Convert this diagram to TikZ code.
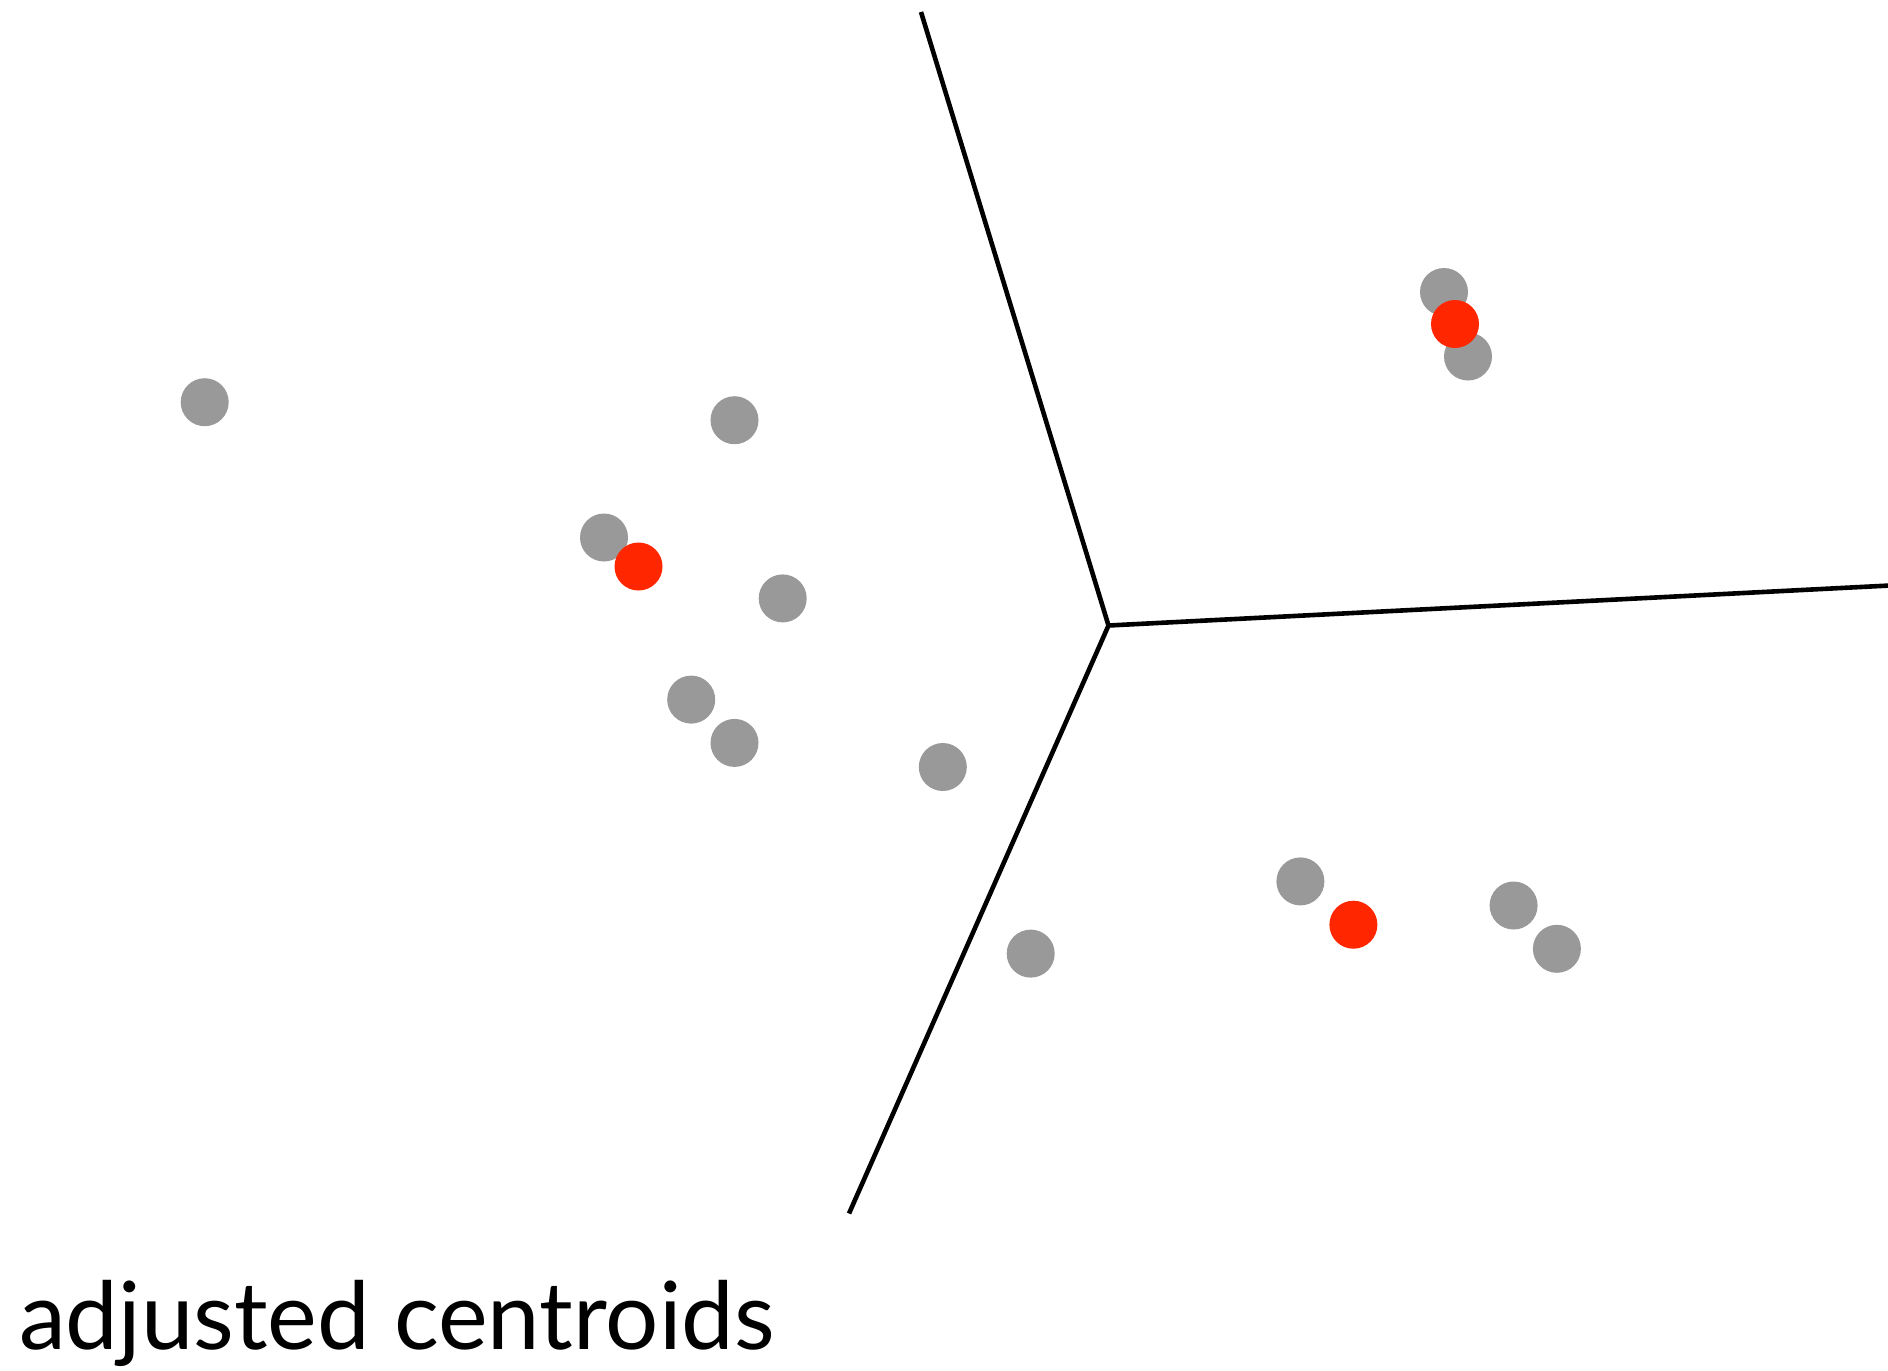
\documentclass[tikz,border=0pt]{standalone}
\usepackage{fontspec}
\setmainfont{Lato}
\definecolor{ptgray}{HTML}{999999}
\definecolor{ptred}{HTML}{FF2600}
\begin{document}
\begin{tikzpicture}[x=1pt,y=-1pt,
  pt/.style={circle,inner sep=0pt,minimum size=48pt,fill=ptgray},
  cen/.style={circle,inner sep=0pt,minimum size=48pt,fill=ptred},
  edge/.style={line width=4.6pt,black}]
\useasboundingbox[fill=white] (0,0) rectangle (1888,1371);
% boundaries
\coordinate (J) at (1108.5,625.5);
\coordinate (T) at (921,12);
\coordinate (B) at (849,1213.5);
\coordinate (R) at (1890,585.5);
\draw[edge] (T) -- (J) -- (B);
\draw[edge] (J) -- (R);
% data points
\node[pt] (p1) at (204.7,402.2) {};
\node[pt] (p2) at (734.5,420.2) {};
\node[pt] (p3) at (604,537.5) {};
\node[pt] (p4) at (782.7,598.4) {};
\node[pt] (p5) at (691.2,699.6) {};
\node[pt] (p6) at (734.5,742.9) {};
\node[pt] (p7) at (942.8,767.0) {};
\node[pt] (p8) at (1030.7,953.6) {};
\node[pt] (p9) at (1300.4,881.4) {};
\node[pt] (p10) at (1513.6,905.5) {};
\node[pt] (p11) at (1556.9,948.8) {};
\node[pt] (p12) at (1444,292) {};
\node[pt] (p13) at (1468,356.5) {};
% centroids
\node[cen] (c1) at (638.5,566.5) {};
\node[cen] (c2) at (1353.4,924.7) {};
\node[cen] (c3) at (1455,324) {};
% caption
\node[anchor=base west,inner sep=0pt,font=\fontsize{94}{100}\selectfont] (cap) at (19,1349) {adjusted centroids};
\end{tikzpicture}
\end{document}
